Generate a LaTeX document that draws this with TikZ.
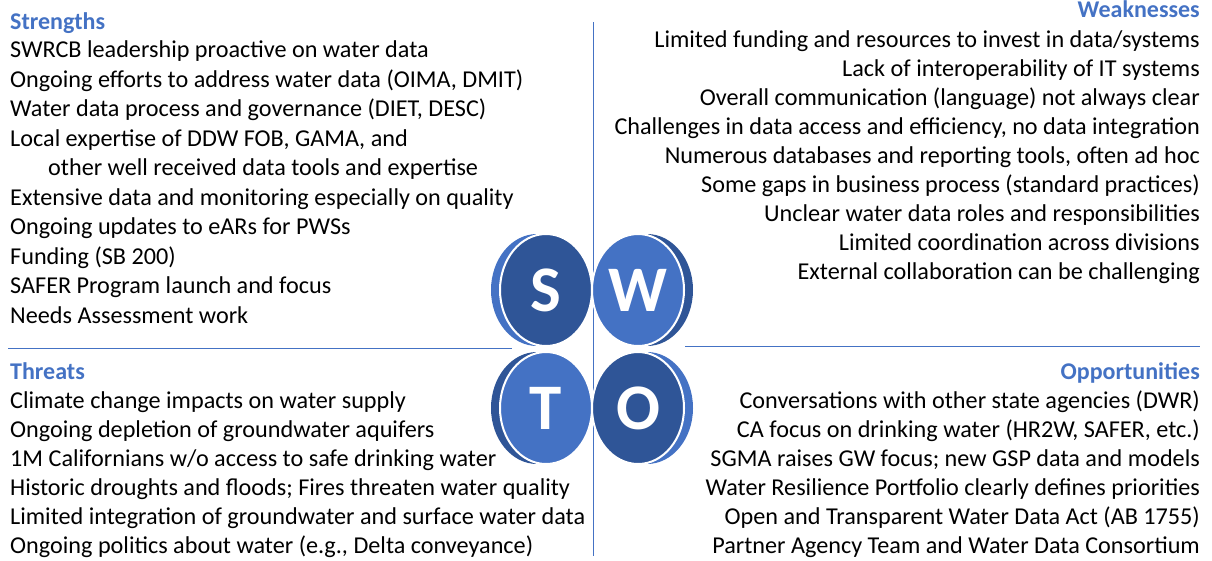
\documentclass[tikz,border=0pt]{standalone}
\usepackage{fontspec}
\setmainfont{Carlito}
\usetikzlibrary{shapes.geometric}
\definecolor{swotdark}{HTML}{2F5597}
\definecolor{swotlight}{HTML}{4472C4}
\begin{document}
\begin{tikzpicture}[x=1pt,y=-1pt,
  title/.style={inner sep=0pt,font=\fontsize{24}{28}\selectfont\bfseries,text=swotlight},
  item/.style={inner sep=0pt,font=\fontsize{24.2}{28}\selectfont},
  divider/.style={draw=swotlight,line width=1pt},
  backdisc/.style={ellipse,minimum width=92pt,minimum height=112pt,inner sep=0pt},
  frontdisc/.style={ellipse,minimum width=92pt,minimum height=112pt,inner sep=0pt,draw=white,line width=2pt,
    text=white,font=\fontsize{65}{70}\selectfont\bfseries}]
\useasboundingbox (0,0) rectangle (1212,560);

% quadrant dividers
\coordinate (vt) at (593,22);
\coordinate (vb) at (593,556);
\coordinate (hl1) at (8,348);
\coordinate (hl2) at (512,348);
\coordinate (hr1) at (685,346);
\coordinate (hr2) at (1200,346);
\draw[divider] (vt) -- (vb);
\draw[divider] (hl1) -- (hl2);
\draw[divider] (hr1) -- (hr2);

% offset shadow discs
\node[backdisc,fill=swotlight] (sb) at (537,290) {};
\node[backdisc,fill=swotdark] (wb) at (647,290) {};
\node[backdisc,fill=swotdark] (tb) at (537,408) {};
\node[backdisc,fill=swotlight] (ob) at (647,408) {};
% letter discs
\node[frontdisc,fill=swotdark] (S) at (546,290) {S};
\node[frontdisc,fill=swotlight] (W) at (638,290) {W};
\node[frontdisc,fill=swotlight] (T) at (546,408) {T};
\node[frontdisc,fill=swotdark] (O) at (638,408) {O};

% Strengths
\node[title,anchor=base west] (st) at (10,29) {Strengths};
\foreach \txt [count=\i] in {
  {SWRCB leadership proactive on water data},
  {Ongoing efforts to address water data (OIMA, DMIT)},
  {Water data process and governance (DIET, DESC)},
  {Local expertise of DDW FOB, GAMA, and},
  {},
  {Extensive data and monitoring especially on quality},
  {Ongoing updates to eARs for PWSs},
  {Funding (SB 200)},
  {SAFER Program launch and focus},
  {Needs Assessment work}}
  \node[item,anchor=base west] (s\i) at (10,{57.5+29.5*(\i-1)}) {\txt};
\node[item,anchor=base west] (s5b) at (48,{57.5+29.5*4}) {other well received data tools and expertise};

% Weaknesses
\node[title,anchor=base east] (wt) at (1200,17) {Weaknesses};
\foreach \txt [count=\i] in {
  {Limited funding and resources to invest in data/systems},
  {Lack of interoperability of IT systems},
  {Overall communication (language) not always clear},
  {Challenges in data access and efficiency, no data integration},
  {Numerous databases and reporting tools, often ad hoc},
  {Some gaps in business process (standard practices)},
  {Unclear water data roles and responsibilities},
  {Limited coordination across divisions},
  {External collaboration can be challenging}}
  \node[item,anchor=base east] (w\i) at (1200,{47+29.1*(\i-1)}) {\txt};

% Threats
\node[title,anchor=base west] (tt) at (10,379) {Threats};
\foreach \txt [count=\i] in {
  {Climate change impacts on water supply},
  {Ongoing depletion of groundwater aquifers},
  {1M Californians w/o access to safe drinking water},
  {Historic droughts and floods; Fires threaten water quality},
  {Limited integration of groundwater and surface water data},
  {Ongoing politics about water (e.g., Delta conveyance)}}
  \node[item,anchor=base west] (t\i) at (10,{408+29*(\i-1)}) {\txt};

% Opportunities
\node[title,anchor=base east] (ot) at (1200,379) {Opportunities};
\foreach \txt [count=\i] in {
  {Conversations with other state agencies (DWR)},
  {CA focus on drinking water (HR2W, SAFER, etc.)},
  {SGMA raises GW focus; new GSP data and models},
  {Water Resilience Portfolio clearly defines priorities},
  {Open and Transparent Water Data Act (AB 1755)},
  {Partner Agency Team and Water Data Consortium}}
  \node[item,anchor=base east] (o\i) at (1200,{408+29*(\i-1)}) {\txt};
\end{tikzpicture}
\end{document}
